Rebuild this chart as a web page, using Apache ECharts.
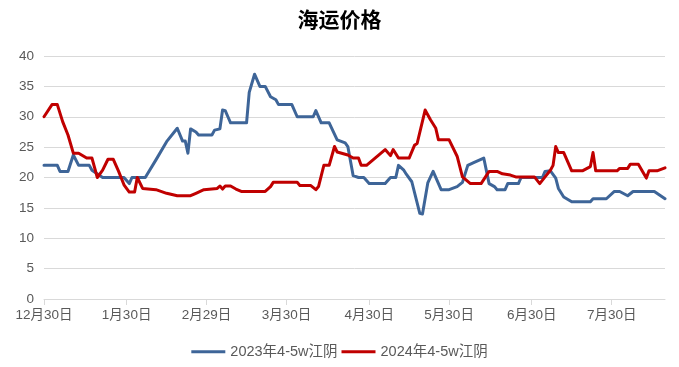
<!DOCTYPE html>
<html>
<head>
<meta charset="utf-8">
<script src="https://cdn.jsdelivr.net/npm/echarts@6/dist/echarts.min.js"></script>
<style>html,body{margin:0;padding:0;background:#fff;}#main{width:679px;height:367px;}</style>
</head>
<body>
<div id="main"></div>
<script>
// Days since 2023-12-30 (category index) and values
const startDate = [2023, 11, 30];
const dayCount = 234;
const tickDays = [0, 31, 61, 91, 122, 152, 183, 213];
const tickLabels = ['12月30日', '1月30日', '2月29日', '3月30日', '4月30日', '5月30日', '6月30日', '7月30日'];

const blueName = '2023年4-5w江阴';
const blueDays = [0,5,6,9,11,13,17,18,22,30,32,33,38,42,46,50,52,53,54,55,57,58,63,64,66,67,68,69,70,76,77,79,81,83,85,87,88,93,95,101,102,104,107,110,113,114,116,118,120,122,128,130,132,133,135,136,138,141,142,144,146,149,152,155,157,159,161,165,167,169,170,173,174,178,179,187,188,190,192,193,195,198,205,206,211,214,216,219,221,229,233];
const blueVals = [22,22,21,21,23.7,22,22,21.2,20,20,19,20,20,22.9,25.9,28.1,26,26,24,28,27.5,27,27,27.8,28,31.1,31,30,29,29,34,37,35,35,33.3,32.8,32,32,30,30,31,29,29,26.2,25.7,25.1,20.3,20,20,19,19,20,20,22,21.2,20.5,19.3,14.1,14,19.1,21,18,18,18.5,19.2,22,22.4,23.2,19,18.5,18,18,19,19,20,20,21,21.1,19.9,18.2,16.8,16,16,16.5,16.5,17.7,17.7,17,17.7,17.7,16.5];

const redName = '2024年4-5w江阴';
const redDays = [0,3,5,7,9,11,13,16,18,20,22,24,26,28,30,32,34,35,37,42,46,50,55,57,60,65,66,67,68,70,72,74,83,85,86,95,96,100,102,103,105,107,109,110,114,116,118,119,121,128,130,131,133,137,139,140,143,145,147,148,152,155,157,160,164,167,170,172,175,177,184,186,188,190,191,192,193,195,198,202,205,206,207,215,216,219,220,223,226,227,230,233];
const redVals = [30,32,32,29.2,27,24,24,23.2,23.2,20,21.2,23,23,21,18.8,17.6,17.6,20,18.2,18,17.4,17,17,17.4,18,18.2,18.6,18.1,18.6,18.6,18.1,17.7,17.7,18.5,19.2,19.2,18.7,18.7,18,18.5,22,22,25.1,24.2,23.7,23.2,23.2,22,22,24.6,23.6,24.6,23.2,23.2,25.3,25.6,31.1,29.5,28.1,26.2,26.2,23.5,20.1,19,19,21,21,20.6,20.4,20.1,20.1,19,20.1,21.2,22,25.1,24.1,24.1,21.1,21.1,21.8,24.1,21.1,21.1,21.5,21.5,22.2,22.2,19.9,21.1,21.1,21.6];

const yTicks = [0, 5, 10, 15, 20, 25, 30, 35, 40];

// build categories (daily dates)
const categories = [];
for (let i = 0; i < dayCount; i++) {
  const d = new Date(startDate[0], startDate[1], startDate[2] + i);
  categories.push((d.getMonth() + 1) + '月' + d.getDate() + '日');
}
const pairs = (xs, ys) => xs.map((x, i) => [x, ys[i]]);
const isTick = (idx) => tickDays.indexOf(idx) >= 0;

const font = '"Liberation Sans", "Noto Sans CJK SC", sans-serif';
const chart = echarts.init(document.getElementById('main'), null, {renderer: 'canvas'});
chart.setOption({
  animation: false,
  backgroundColor: '#ffffff',
  title: {
    text: '海运价格',
    left: 'center',
    top: 4,
    textStyle: {fontFamily: '"Noto Sans CJK SC", sans-serif', fontSize: 21, fontWeight: 'bold', color: '#000000'}
  },
  legend: {
    bottom: 3,
    left: 'center',
    itemGap: 4,
    itemWidth: 34,
    itemHeight: 3,
    icon: 'rect',
    textStyle: {fontFamily: font, fontSize: 14.5, color: '#595959'},
    data: [blueName, redName]
  },
  grid: {left: 44, right: 14, top: 56, bottom: 68, containLabel: false},
  xAxis: {
    type: 'category',
    boundaryGap: false,
    data: categories,
    axisLine: {show: true, lineStyle: {color: '#d9d9d9', width: 1}},
    axisTick: {show: true, length: 6, lineStyle: {color: '#d9d9d9'}, interval: (idx) => isTick(idx)},
    axisLabel: {
      interval: (idx) => isTick(idx),
      formatter: (val, idx) => { const k = tickDays.indexOf(idx); return k >= 0 ? tickLabels[k] : ''; },
      color: '#595959', fontSize: 13.5, fontFamily: font, margin: 10
    },
    splitLine: {show: false}
  },
  yAxis: {
    type: 'value',
    min: yTicks[0],
    max: yTicks[yTicks.length - 1],
    interval: 5,
    axisLine: {show: false},
    axisTick: {show: false},
    axisLabel: {color: '#595959', fontSize: 13.5, fontFamily: font, margin: 10},
    splitLine: {lineStyle: {color: '#d9d9d9', width: 1}}
  },
  series: [
    {
      name: blueName, type: 'line', data: pairs(blueDays, blueVals),
      showSymbol: false, symbol: 'none',
      lineStyle: {color: '#3E6598', width: 3, cap: 'round', join: 'round'},
      itemStyle: {color: '#3E6598'}
    },
    {
      name: redName, type: 'line', data: pairs(redDays, redVals),
      showSymbol: false, symbol: 'none',
      lineStyle: {color: '#C00000', width: 3, cap: 'round', join: 'round'},
      itemStyle: {color: '#C00000'}
    }
  ]
});
</script>
</body>
</html>
